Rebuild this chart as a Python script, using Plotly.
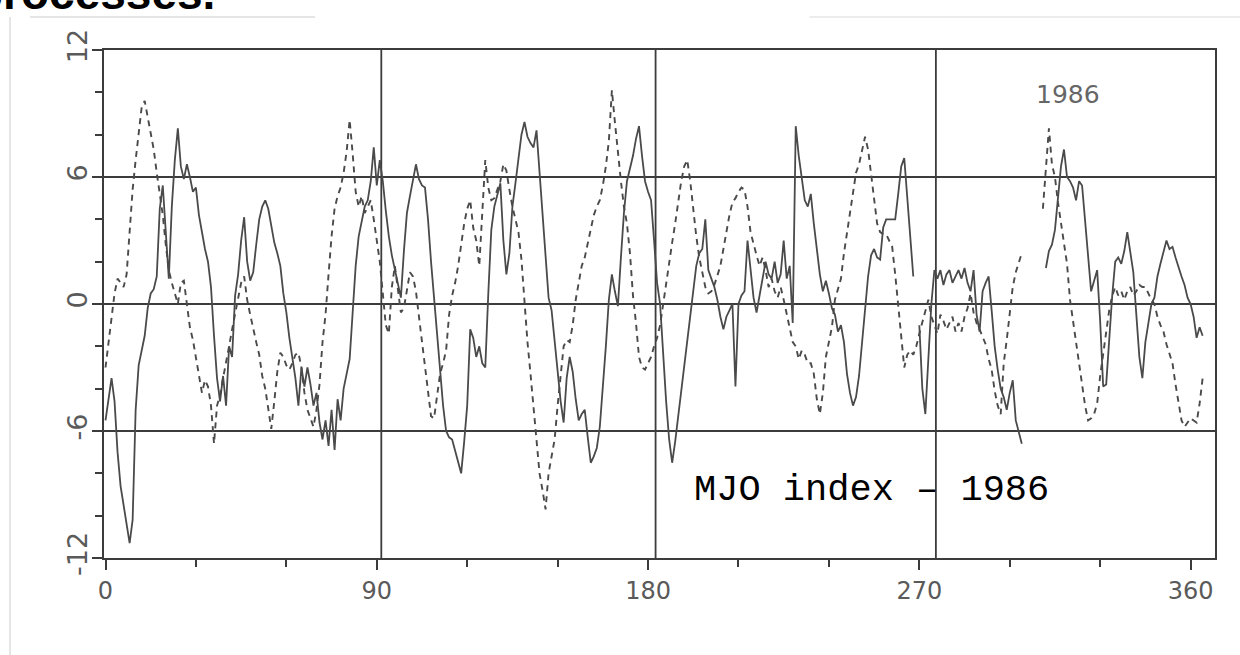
import plotly.graph_objects as go

# ---- data (day of year, index value) ----
solid_day = list(range(0, 269)) + [269] + list(range(270, 305)) + [308] + list(range(312, 365))
solid_val = [
    -5.5, -4.5, -3.5, -4.6, -7.0, -8.6, -9.5, -10.6, -11.3, -10.2,
    -5.0, -2.9, -2.1, -1.5, -0.2, 0.5, 0.7, 1.3, 4.5, 5.6,
    3.4, 1.2, 4.6, 6.8, 8.3, 6.5, 5.9, 6.6, 6.0, 5.3,
    5.5, 4.2, 3.4, 2.6, 2.0, 0.8, -1.5, -3.5, -4.6, -3.4,
    -4.8, -2.0, -2.5, 0.4, 1.4, 3.0, 4.1, 2.0, 1.1, 1.5,
    2.8, 4.0, 4.6, 4.9, 4.5, 3.6, 2.9, 2.4, 1.8, 0.5,
    -0.4, -1.6, -2.6, -3.5, -4.8, -3.0, -3.9, -3.0, -3.8, -4.8,
    -4.2, -5.6, -6.4, -5.5, -6.7, -5.0, -6.9, -4.5, -5.5, -4.0,
    -3.3, -2.6, -0.4, 1.8, 3.2, 4.0, 4.6, 4.9, 5.8, 7.4,
    5.6, 6.8, 5.8, 4.4, 3.2, 2.3, 1.6, 1.0, 0.3, 2.5,
    4.3, 5.1, 5.8, 6.6, 5.9, 5.6, 5.5, 4.0, 2.0, 0.2,
    -1.5, -3.0, -4.8, -6.0, -6.3, -6.4, -6.9, -7.4, -8.0, -6.5,
    -4.8, -1.2, -1.6, -2.5, -2.0, -2.8, -3.0, 0.5, 3.5, 4.6,
    5.1, 5.7, 3.0, 1.4, 2.4, 4.6, 5.7, 7.0, 8.0, 8.6,
    7.9, 7.6, 7.4, 8.2, 6.2, 3.8, 1.8, 0.3, -0.3, -1.8,
    -3.3, -4.6, -5.6, -3.5, -2.5, -3.2, -4.5, -5.5, -5.2, -5.0,
    -6.3, -7.5, -7.2, -6.8, -5.8, -4.0, -2.0, 0.2, 1.4, 0.6,
    -0.1, 2.2, 4.3, 5.8, 6.4, 7.0, 7.8, 8.4, 7.0, 5.8,
    5.3, 4.9, 3.0, 1.0, 0.0, -2.4, -4.6, -6.4, -7.5, -6.5,
    -5.3, -4.1, -2.8, -1.8, -0.5, 0.8, 1.8, 2.4, 2.6, 4.0,
    1.6, 1.2, 0.8, 0.2, -0.6, -1.2, -0.6, -0.3, 0.0, -3.9,
    0.0, 0.4, 0.6, 3.0, 1.5, 0.3, -0.4, 0.4, 1.1, 2.0,
    1.4, 1.2, 2.0, 1.0, 1.4, 3.0, 1.2, 1.8, -0.9, 8.4,
    7.0, 5.8, 4.9, 4.6, 5.2, 3.8, 2.5, 1.4, 0.6, 1.1,
    0.5, -0.2, -0.5, -1.3, -1.0, -1.8, -3.3, -4.2, -4.8, -4.4,
    -3.4, -1.8, 0.0, 1.3, 2.3, 2.6, 2.2, 2.1, 3.6, 4.0,
    4.0, 4.0, 4.0, 5.2, 6.5, 6.9, 5.0, 3.0, 1.3,
    None,
    -1.0, -4.0, -5.2, -2.5, 0.0, 1.6, 1.2, 1.6, 0.9, 1.4,
    1.6, 1.0, 1.3, 1.6, 1.2, 1.7, 1.0, 0.6, 1.6, -0.5,
    -1.3, 0.6, 1.0, 1.3, -0.3, -2.0, -3.1, -4.0, -4.4, -5.0,
    -4.2, -3.6, -5.5, -6.0, -6.6,
    None,
    1.7, 2.5, 2.8, 3.5, 5.0, 6.5, 7.3, 6.0, 5.8, 5.5,
    4.9, 5.8, 5.6, 3.9, 2.4, 0.6, 1.1, 1.6, -0.8, -3.9,
    -3.8, -1.6, 0.4, 2.0, 2.2, 1.9, 2.5, 3.4, 2.5, 1.5,
    -0.5, -2.5, -3.5, -1.8, -0.9, 0.0, 0.3, 1.3, 1.9, 2.5,
    3.0, 2.6, 2.7, 2.2, 1.7, 1.3, 0.9, 0.3, 0.0, -0.6,
    -1.6, -1.1, -1.5,
]

dashed_day = list(range(0, 305)) + [308] + list(range(311, 365))
dashed_val = [
    -3.0, -1.8, -0.6, 0.5, 1.2, 1.0, 0.8, 1.4, 3.6, 5.4,
    6.8, 8.2, 9.3, 9.6, 8.8, 7.9, 7.3, 6.2, 5.2, 4.2,
    2.8, 1.6, 1.0, 0.5, 0.0, 1.0, 1.1, 0.0, -1.1, -1.7,
    -2.6, -3.5, -4.2, -3.6, -3.9, -4.8, -6.6, -4.8, -4.3, -3.5,
    -2.8, -2.0, -1.2, -0.4, 0.4, 1.0, 1.3, 0.2, -0.5, -1.2,
    -1.8, -2.4, -3.4, -4.0, -4.9, -5.9, -4.6, -3.2, -2.3, -2.5,
    -2.9, -3.1, -2.8, -2.4, -2.3, -3.0, -4.2, -5.0, -5.4, -5.8,
    -5.0, -3.8, -1.8, -0.5, 1.4, 3.2, 4.5, 5.1, 5.5, 6.2,
    7.2, 8.7, 7.1, 5.3, 4.6, 5.1, 4.3, 4.6, 4.9, 4.0,
    3.0, 2.0, 0.5, -1.0, -1.4, 0.8, 1.8, 0.6, -0.4, -0.2,
    0.6, 1.5, 1.3, 0.6, -0.6, -1.8, -2.9, -4.2, -5.3, -5.4,
    -4.2, -3.3, -2.8, -2.2, -0.5, 0.4, 1.0, 1.8, 2.8, 3.8,
    4.5, 4.9, 3.6, 3.0, 1.8, 4.6, 6.8, 5.5, 4.9, 5.0,
    5.4, 5.8, 6.6, 6.3, 5.4, 4.6, 4.0, 3.4, 2.1, -0.1,
    -1.8, -3.3, -4.8, -6.4, -8.0, -8.8, -9.7, -8.0, -7.2, -6.4,
    -4.8, -3.3, -2.0, -1.7, -1.8, -1.0, 0.2, 1.0, 1.8, 2.2,
    2.9, 3.6, 4.2, 4.6, 4.9, 5.6, 6.5, 7.7, 10.1, 8.6,
    7.0, 5.8, 4.6, 3.8, 2.4, 0.4, -0.9, -2.5, -3.0, -3.1,
    -2.8, -2.5, -2.0, -1.6, -1.0, 0.0, 1.0, 2.1, 2.9, 3.8,
    4.9, 5.8, 6.5, 6.8, 5.8, 4.4, 3.2, 2.2, 1.4, 0.8,
    0.5, 0.6, 0.9, 1.3, 1.8, 2.6, 3.4, 4.2, 4.8, 5.0,
    5.3, 5.5, 5.4, 4.6, 3.4, 2.8, 2.3, 1.8, 2.2, 1.6,
    0.8, 1.2, 0.6, 0.3, 0.8, 0.2, -0.5, -1.2, -1.8, -2.0,
    -2.6, -2.2, -2.4, -2.8, -2.8, -3.3, -4.5, -5.2, -4.2, -2.5,
    -1.8, -1.1, 0.2, 0.7, 1.2, 2.4, 3.4, 4.2, 5.4, 6.2,
    6.6, 7.2, 7.9, 7.3, 6.2, 5.0, 3.8, 3.4, 3.3, 3.3,
    3.0, 2.7, 1.4, 0.0, -1.7, -3.0, -2.4, -2.2, -2.4, -2.0,
    -1.4, -0.9, -0.3, 0.2, -0.6, -1.0, -1.4, -0.5, -0.8, -1.2,
    -0.9, -0.6, -1.3, -0.9, -1.3, -0.6, -0.2, 0.5, -0.4, -0.9,
    -1.2, -1.6, -1.9, -2.6, -3.1, -4.1, -4.8, -5.2, -2.8, -1.7,
    -0.5, 0.8, 1.5, 2.0, 2.4,
    None,
    4.5, 6.4, 8.3, 6.6, 6.0, 4.8, 3.8, 3.0, 1.9, 0.2,
    -0.8, -1.8, -3.0, -4.0, -4.8, -5.5, -5.4, -5.2, -4.7, -3.4,
    -2.3, -1.2, -0.3, 0.4, 0.8, 0.4, 0.6, 0.2, 0.6, 0.8,
    0.4, 0.6, 0.9, 0.8, 0.8, 0.5, 0.2, 0.0, -0.6, -1.0,
    -1.3, -1.9, -2.4, -2.8, -3.8, -4.7, -5.5, -5.8, -5.6, -5.4,
    -5.5, -5.6, -4.7, -3.5,
]

x_tick_vals = [0, 90, 180, 270, 360]
x_tick_text = ["0", "90", "180", "270", "360"]
y_tick_vals = [-12, -6, 0, 6, 12]
y_tick_text = ["-12", "-6", "0", "6", "12"]
quarter_lines = [91.5, 182.5, 275.5]

LINE = "#4a4a4a"
FRAME = "#3c3c3c"
LABEL = "#5a5a5a"

fig = go.Figure()
fig.add_trace(go.Scatter(x=dashed_day, y=dashed_val, mode="lines",
                         line=dict(color=LINE, width=1.9, dash="6px,5px"),
                         connectgaps=False, showlegend=False, hoverinfo="skip"))
fig.add_trace(go.Scatter(x=solid_day, y=solid_val, mode="lines",
                         line=dict(color=LINE, width=1.8),
                         connectgaps=False, showlegend=False, hoverinfo="skip"))

for q in quarter_lines:
    fig.add_shape(type="line", xref="x", yref="y", x0=q, x1=q, y0=-12, y1=12,
                  line=dict(color=FRAME, width=1.8), layer="below")

# faint scan edges of the page
fig.add_shape(type="line", xref="paper", yref="paper", x0=-0.0846, x1=-0.0846, y0=-1.2, y1=1.065,
              line=dict(color="#dddddd", width=1.5))
fig.add_shape(type="line", xref="paper", yref="paper", x0=-0.0666, x1=0.19, y0=1.065, y1=1.065,
              line=dict(color="#dddddd", width=1.5))
fig.add_shape(type="line", xref="paper", yref="paper", x0=0.635, x1=1.03, y0=1.065, y1=1.065,
              line=dict(color="#e6e6e6", width=1.5))

fig.add_annotation(x=194.6, y=-8.8, xref="x", yref="y", xanchor="left", yanchor="middle",
                   text="MJO index \u2013 1986", showarrow=False,
                   font=dict(family="Liberation Mono, Courier New, monospace", size=37, color="#000000"))
fig.add_annotation(x=319.2, y=9.9, xref="x", yref="y", xanchor="center", yanchor="middle",
                   text="1986", showarrow=False,
                   font=dict(family="DejaVu Sans, Arial, sans-serif", size=25, color="#666666"))
fig.add_annotation(x=-0.118, y=1.058, xref="paper", yref="paper", xanchor="left", yanchor="bottom",
                   text="<b>processes.</b>", showarrow=False,
                   font=dict(family="Liberation Sans, Arial, sans-serif", size=46, color="#000000"))

fig.update_layout(
    width=1240, height=655,
    margin=dict(l=104, r=25, t=50, b=97, pad=0),
    paper_bgcolor="white", plot_bgcolor="white",
    xaxis=dict(range=[-0.5, 368.1], showgrid=False, zeroline=False,
               showline=True, mirror=True, linecolor=FRAME, linewidth=2,
               tickmode="array", tickvals=x_tick_vals, ticktext=x_tick_text,
               ticks="outside", ticklen=10, tickwidth=1.5, tickcolor=FRAME,
               minor=dict(dtick=30, tick0=0, ticks="outside", ticklen=7, tickwidth=1.5, tickcolor=FRAME),
               tickfont=dict(family="DejaVu Sans, Arial, sans-serif", size=24, color=LABEL)),
    yaxis=dict(range=[-12, 12], showgrid=True, gridcolor=FRAME, gridwidth=1.8, zeroline=False,
               showline=True, mirror=True, linecolor=FRAME, linewidth=2,
               tickmode="array", tickvals=y_tick_vals, ticktext=y_tick_text, tickangle=-90,
               ticks="outside", ticklen=10, tickwidth=1.5, tickcolor=FRAME,
               ticklabelstandoff=-6,
               minor=dict(dtick=2, tick0=0, ticks="outside", ticklen=7, tickwidth=1.5, tickcolor=FRAME),
               tickfont=dict(family="DejaVu Sans, Arial, sans-serif", size=27, color=LABEL)),
)

fig.write_html("out.html")
